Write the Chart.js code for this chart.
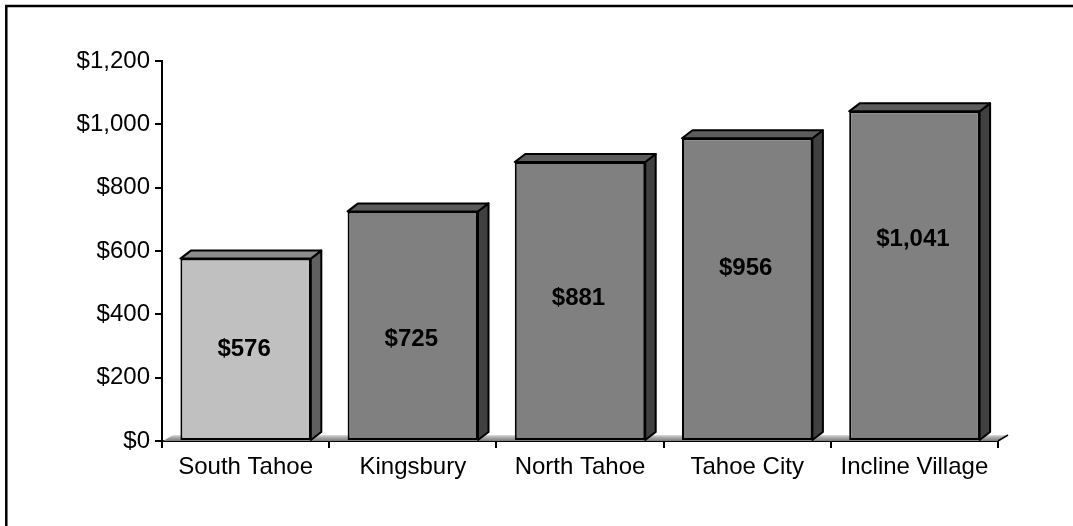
<!DOCTYPE html>
<html>
<head>
<meta charset="utf-8">
<script src="https://cdn.jsdelivr.net/npm/chart.js@4.4.1/dist/chart.umd.min.js"></script>
<style>
  html, body { margin: 0; padding: 0; background: #ffffff; }
  #wrap { position: relative; width: 1073px; height: 526px; }
</style>
</head>
<body>
<div id="wrap"><canvas id="chart" width="1073" height="526"></canvas></div>
<script>
// Average cost by area
const categories = ['South Tahoe', 'Kingsbury', 'North Tahoe', 'Tahoe City', 'Incline Village'];
const costs = [576, 725, 881, 956, 1041];
const yTicks = [0, 200, 400, 600, 800, 1000, 1200];

// Shading per bar: front face, top face, side face
const frontColors = ['#c0c0c0', '#808080', '#808080', '#808080', '#808080'];
const topColors   = ['#8c8c8c', '#5c5c5c', '#5c5c5c', '#5c5c5c', '#5c5c5c'];
const sideColors  = ['#606060', '#404040', '#404040', '#404040', '#404040'];

// Vertical placement of value labels inside each front face (fraction of height)
const labelFractions = [0.5, 0.44, 0.51, 0.57, 0.61];

const DEPTH_X = 10.5, DEPTH_Y = 8;
const FONT = '"Liberation Sans", Arial, sans-serif';

function money(v) {
  return '$' + v.toLocaleString('en-US');
}

const frame = {
  id: 'frame',
  afterDraw(chart) {
    const ctx = chart.ctx;
    ctx.save();
    ctx.strokeStyle = '#000';
    ctx.lineWidth = 2.5;
    ctx.beginPath();
    ctx.moveTo(6.3, 526);
    ctx.lineTo(6.3, 6);
    ctx.lineTo(1073, 6);
    ctx.stroke();
    ctx.restore();
  }
};

const floor3d = {
  id: 'floor3d',
  beforeDatasetsDraw(chart) {
    const { ctx, chartArea } = chart;
    const y0 = chart.scales.y.getPixelForValue(0);
    const l = chartArea.left, r = chartArea.right;
    ctx.save();
    const g = ctx.createLinearGradient(0, y0 - 6, 0, y0);
    g.addColorStop(0, '#e0e0e0');
    g.addColorStop(0.35, '#b0b0b0');
    g.addColorStop(1, '#7a7a7a');
    ctx.fillStyle = g;
    ctx.beginPath();
    ctx.moveTo(l + 1, y0);
    ctx.lineTo(r, y0);
    ctx.lineTo(r + 10, y0 - 6);
    ctx.lineTo(l + 11, y0 - 6);
    ctx.closePath();
    ctx.fill();
    ctx.strokeStyle = '#000';
    ctx.lineWidth = 1.5;
    ctx.beginPath();
    ctx.moveTo(r, y0);
    ctx.lineTo(r + 10, y0 - 6);
    ctx.stroke();
    ctx.restore();
  }
};

const bars3d = {
  id: 'bars3d',
  afterDatasetsDraw(chart) {
    const ctx = chart.ctx;
    const meta = chart.getDatasetMeta(0);
    ctx.save();
    ctx.lineJoin = 'round';
    meta.data.forEach((bar, i) => {
      const { x, y, base, width } = bar.getProps(['x', 'y', 'base', 'width'], true);
      const left = x - width / 2, right = x + width / 2;
      ctx.strokeStyle = '#000';
      ctx.lineWidth = 2;
      // side face
      ctx.fillStyle = sideColors[i];
      ctx.beginPath();
      ctx.moveTo(right, y);
      ctx.lineTo(right + DEPTH_X, y - DEPTH_Y);
      ctx.lineTo(right + DEPTH_X, base - DEPTH_Y);
      ctx.lineTo(right, base);
      ctx.closePath();
      ctx.fill();
      ctx.stroke();
      // top face
      ctx.fillStyle = topColors[i];
      ctx.beginPath();
      ctx.moveTo(left, y);
      ctx.lineTo(left + DEPTH_X, y - DEPTH_Y);
      ctx.lineTo(right + DEPTH_X, y - DEPTH_Y);
      ctx.lineTo(right, y);
      ctx.closePath();
      ctx.fill();
      ctx.stroke();
      // value label
      ctx.fillStyle = '#000';
      ctx.font = 'bold 24px ' + FONT;
      ctx.textAlign = 'center';
      ctx.textBaseline = 'middle';
      const ly = base - labelFractions[i] * (base - y);
      ctx.fillText(money(costs[i]), x - 1.5, ly);
    });
    ctx.restore();
  }
};

new Chart(document.getElementById('chart'), {
  type: 'bar',
  data: {
    labels: categories,
    datasets: [{
      data: costs,
      backgroundColor: frontColors,
      borderColor: '#000',
      borderWidth: 2,
      borderSkipped: false,
      barPercentage: 0.78,
      categoryPercentage: 1.0
    }]
  },
  options: {
    responsive: false,
    animation: false,
    events: [],
    layout: { padding: { left: 0, top: 61, right: 75, bottom: 0 } },
    plugins: {
      legend: { display: false },
      tooltip: { enabled: false },
      title: { display: false }
    },
    scales: {
      x: {
        offset: true,
        grid: {
          offset: true,
          drawOnChartArea: false,
          drawTicks: true,
          tickLength: 7,
          color: '#000',
          lineWidth: 2
        },
        border: { display: true, color: '#000', width: 2 },
        ticks: {
          color: '#000',
          padding: 5,
          maxRotation: 0,
          autoSkip: false,
          font: { family: FONT, size: 24 }
        },
        afterFit(scale) { scale.height = 85; }
      },
      y: {
        min: 0,
        max: 1200,
        afterBuildTicks(scale) { scale.ticks = yTicks.map(v => ({ value: v })); },
        grid: {
          drawOnChartArea: false,
          drawTicks: true,
          tickLength: 7,
          color: '#000',
          lineWidth: 2
        },
        border: { display: true, color: '#000', width: 2 },
        ticks: {
          color: '#000',
          padding: 5,
          font: { family: FONT, size: 24 },
          callback: (v) => money(v)
        },
        afterFit(scale) { scale.width = 162; }
      }
    }
  },
  plugins: [floor3d, bars3d, frame]
});
</script>
</body>
</html>
